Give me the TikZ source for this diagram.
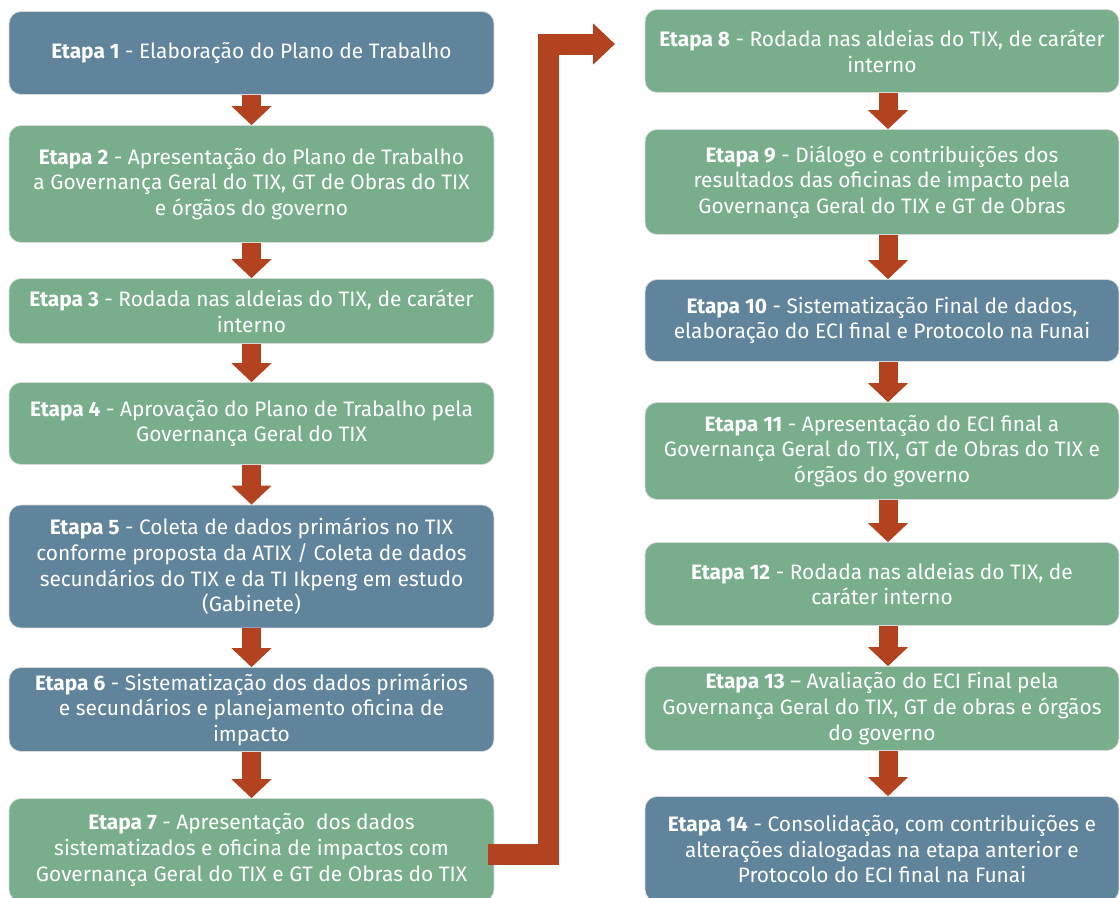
\documentclass[tikz,border=0pt]{standalone}
\usepackage{fontspec}
\setmainfont{Fira Sans}
\usetikzlibrary{arrows.meta}
\definecolor{etapablue}{RGB}{96,132,156}
\definecolor{etapagreen}{RGB}{121,174,140}
\definecolor{etapaarrow}{RGB}{178,66,32}

\begin{document}
\begin{tikzpicture}[x=0.02cm, y=-0.02cm,
  etapa/.style={rounded corners=0.24cm, draw=black!15, line width=0.4pt,
    text=white, align=center, inner sep=2pt,
    font=\fontsize{11.9}{14.6}\selectfont},
  leftbox/.style={etapa, minimum width=9.7cm},
  rightbox/.style={etapa, minimum width=9.48cm},
  bluebox/.style={fill=etapablue},
  greenbox/.style={fill=etapagreen},
  down/.style={draw=etapaarrow, line width=0.38cm,
    -{Triangle[width=0.78cm, length=0.38cm]}, etapaarrow},
  turn/.style={draw=etapaarrow, line width=0.42cm, line join=miter,
    -{Triangle[width=0.8cm, length=0.44cm]}, etapaarrow}]
  \useasboundingbox (0,0) rectangle (1120,897);
  \clip (0,0) rectangle (1120,897);

  % left column
  \node[leftbox, bluebox, minimum height=1.66cm] (b1) at (251.5,53)
    {\textbf{Etapa 1} - Elaboração do Plano de Trabalho};
  \node[leftbox, greenbox, minimum height=2.34cm] (b2) at (251.5,184)
    {\textbf{Etapa 2} - Apresentação do Plano de Trabalho\\
     a Governança Geral do TIX, GT de Obras do TIX\\
     e órgãos do governo};
  \node[leftbox, greenbox, minimum height=1.30cm] (b3) at (251.5,311)
    {\textbf{Etapa 3} - Rodada nas aldeias do TIX, de caráter\\ interno};
  \node[leftbox, greenbox, minimum height=1.64cm] (b4) at (251.5,423.5)
    {\textbf{Etapa 4} - Aprovação do Plano de Trabalho pela\\
     Governança Geral do TIX};
  \node[leftbox, bluebox, minimum height=2.46cm] (b5) at (251.5,566.5)
    {\textbf{Etapa 5} - Coleta de dados primários no TIX\\
     conforme proposta da ATIX / Coleta de dados\\
     secundários do TIX e da TI Ikpeng em estudo\\
     (Gabinete)};
  \node[leftbox, bluebox, minimum height=1.68cm] (b6) at (251.5,709.5)
    {\textbf{Etapa 6} - Sistematização dos dados primários\\
     e secundários e planejamento oficina de\\ impacto};
  \node[leftbox, greenbox, minimum height=2.06cm] (b7) at (251.5,850)
    {\textbf{Etapa 7} - Apresentação\ \ dos dados\\
     sistematizados e oficina de impactos com\\
     Governança Geral do TIX e GT de Obras do TIX};

  % right column
  \node[rightbox, greenbox, minimum height=1.66cm] (b8) at (882,51)
    {\textbf{Etapa 8} - Rodada nas aldeias do TIX, de caráter\\ interno};
  \node[rightbox, greenbox, minimum height=2.10cm] (b9) at (882,182)
    {\textbf{Etapa 9} - Diálogo e contribuições dos\\
     resultados das oficinas de impacto pela\\
     Governança Geral do TIX e GT de Obras};
  \node[rightbox, bluebox, minimum height=1.64cm] (b10) at (882,320.5)
    {\textbf{Etapa 10} - Sistematização Final de dados,\\
     elaboração do ECI final e Protocolo na Funai};
  \node[rightbox, greenbox, minimum height=1.94cm] (b11) at (882,451)
    {\textbf{Etapa 11} - Apresentação do ECI final a\\
     Governança Geral do TIX, GT de Obras do TIX e\\
     órgãos do governo};
  \node[rightbox, greenbox, minimum height=1.66cm] (b12) at (882,584)
    {\textbf{Etapa 12} - Rodada nas aldeias do TIX, de\\ caráter interno};
  \node[rightbox, greenbox, minimum height=1.68cm] (b13) at (882,708.5)
    {\textbf{Etapa 13} – Avaliação do ECI Final pela\\
     Governança Geral do TIX, GT de obras e órgãos\\ do governo};
  \node[rightbox, bluebox, minimum height=2.10cm] (b14) at (882,849)
    {\textbf{Etapa 14} - Consolidação, com contribuições e\\
     alterações dialogadas na etapa anterior e\\
     Protocolo do ECI final na Funai};

  % arrows
  \foreach \a/\b in {b1/b2, b2/b3, b3/b4, b4/b5, b5/b6, b6/b7}
    \draw[down] (\a.south) -- (\b.north);
  \foreach \a/\b in {b8/b9, b9/b10, b10/b11, b11/b12, b12/b13, b13/b14}
    \draw[down] ([xshift=0.12cm]\a.south) -- ([xshift=0.12cm]\b.north);

  \coordinate (bend) at (548.5,44);
  \coordinate (tip) at (615,44);
  \draw[turn] ([xshift=-0.12cm, yshift=-0.08cm]b7.east) -| (bend) -- (tip);
\end{tikzpicture}
\end{document}
